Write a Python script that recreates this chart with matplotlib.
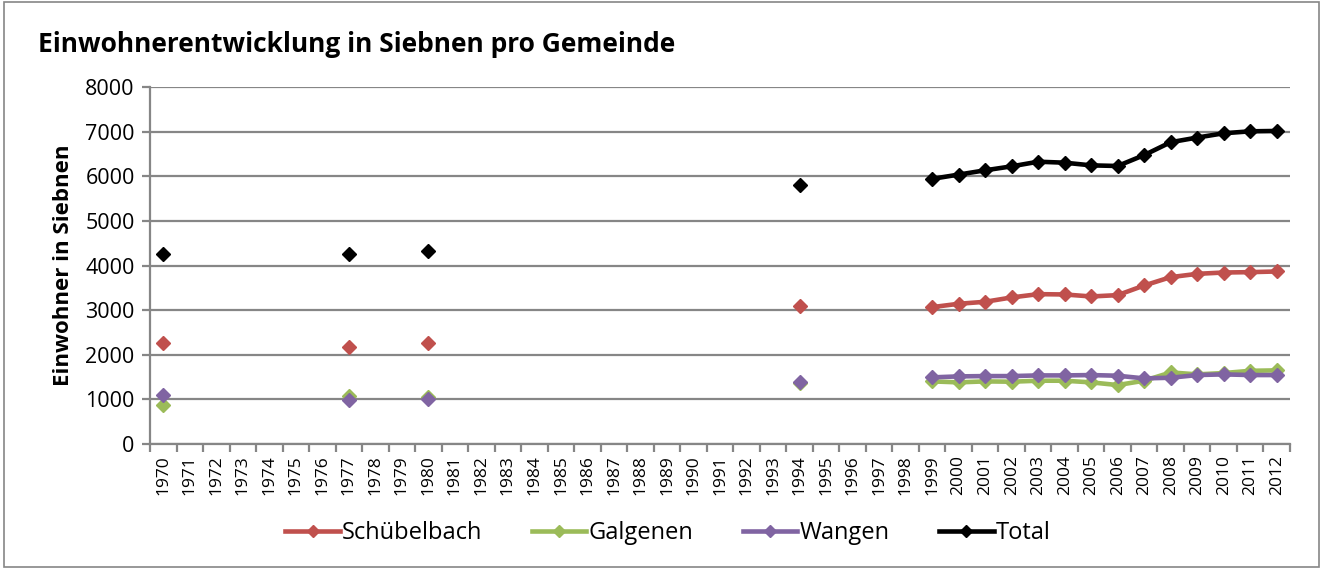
import numpy as np
import matplotlib.pyplot as plt
from matplotlib.patches import Rectangle

plt.rcParams['font.family'] = ['Open Sans', 'DejaVu Sans']

years = list(range(1970, 2013))
nan = np.nan

# values per year, nan where no data
data_years = [1970, 1977, 1980, 1994] + list(range(1999, 2013))
schuebelbach = [2261, 2179, 2269, 3089,
                3067, 3142, 3187, 3284, 3358, 3351, 3306, 3336, 3552, 3739, 3813, 3843, 3851, 3866]
galgenen = [866, 1082, 1060, 1370,
            1403, 1381, 1403, 1396, 1418, 1418, 1381, 1321, 1418, 1604, 1560, 1590, 1640, 1650]
wangen = [1097, 978, 1000, 1381,
          1493, 1515, 1522, 1522, 1537, 1537, 1545, 1530, 1470, 1485, 1545, 1560, 1545, 1545]
total = [4254, 4254, 4321, 5815,
         5941, 6037, 6133, 6222, 6326, 6304, 6244, 6230, 6474, 6763, 6867, 6963, 7007, 7015]

series = [('Schübelbach', schuebelbach, '#C0504D'),
          ('Galgenen', galgenen, '#9BBB59'),
          ('Wangen', wangen, '#8064A2'),
          ('Total', total, '#000000')]


def full(vals):
    out = [nan] * len(years)
    for y, v in zip(data_years, vals):
        out[years.index(y)] = v
    return out


fig = plt.figure(figsize=(13.23, 5.69), dpi=100)
fig.patches.append(Rectangle((0.003, 0.003), 0.994, 0.994, transform=fig.transFigure,
                             fill=False, edgecolor='#868686', linewidth=1.2))
ax = fig.add_axes([150 / 1323, 1 - 444 / 569, 1140 / 1323, 357 / 569])

x = np.arange(len(years))
for name, vals, col in series:
    ax.plot(x, full(vals), color=col, linewidth=3.3, marker='D', markersize=7.5,
            label=name, zorder=3)

ax.set_xlim(-0.5, len(years) - 0.5)
ax.set_ylim(0, 8000)
ax.set_yticks(range(0, 8001, 1000))
ax.yaxis.grid(True, color='#868686', linewidth=1.6)
ax.set_axisbelow(True)
ax.set_xticks(x)
ax.set_xticklabels([str(y) for y in years], rotation=90, fontsize=12.5)
ax.set_xticks(np.arange(-0.5, len(years)), minor=True)
ax.tick_params(axis='x', which='major', length=0, pad=8)
ax.tick_params(axis='x', which='minor', length=6, color='#868686', width=1.6)
ax.tick_params(axis='y', length=6, color='#868686', width=1.6, labelsize=15.5, pad=5)
for s in ['top', 'right']:
    ax.spines[s].set_visible(False)
for s in ['left', 'bottom']:
    ax.spines[s].set_color('#868686')
    ax.spines[s].set_linewidth(1.6)

ax.set_ylabel('Einwohner in Siebnen', fontsize=16, fontweight='bold', labelpad=8)
fig.text(38 / 1323, 1 - 45 / 569, 'Einwohnerentwicklung in Siebnen pro Gemeinde',
         fontsize=19, fontweight='bold', va='center', ha='left')

fig.legend(loc='center', bbox_to_anchor=(0.505, 1 - 533 / 569), ncol=4, frameon=False,
           fontsize=17, handlelength=2.3, handletextpad=0.1, columnspacing=2.1,
           markerscale=0.75)

fig.savefig('out.png', dpi=100)
